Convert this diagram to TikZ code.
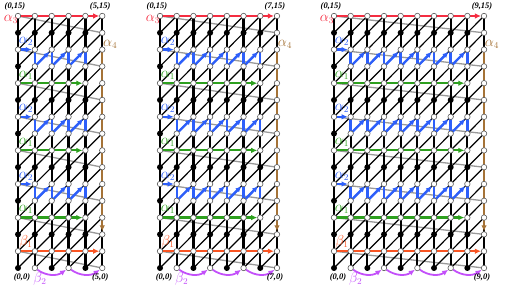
\documentclass[tikz,border=0pt]{standalone}
\usepackage{fontspec}
\setmainfont{Liberation Serif}
\usetikzlibrary{arrows.meta}
\pgfdeclarelayer{glayer}
\pgfdeclarelayer{elayer}
\pgfdeclarelayer{player}
\pgfsetlayers{glayer,elayer,player,main}
\definecolor{cathree}{RGB}{245,45,65}
\definecolor{catwo}{RGB}{45,95,250}
\definecolor{caone}{RGB}{45,160,30}
\definecolor{cafour}{RGB}{165,115,55}
\definecolor{cbone}{RGB}{250,85,35}
\definecolor{cbtwo}{RGB}{195,80,250}
\tikzset{
  ov/.style={circle,draw=black!65,fill=white,line width=0.6pt,inner sep=0pt,minimum size=5.5pt},
  fv/.style={circle,fill=black,inner sep=0pt,minimum size=6pt},
  vedge/.style={line width=2.2pt,black},
  dedge/.style={line width=1.2pt,black},
  gedge/.style={line width=1.3pt,black!40},
  pth/.style={line width=2.2pt,-{Latex[length=6pt,width=5.5pt]}},
  zz/.style={line width=2.4pt},
  coordlab/.style={font=\fontsize{8.5}{9}\selectfont\bfseries\itshape,inner sep=0pt},
  glab/.style={font=\fontsize{13.5}{14}\selectfont,inner sep=0pt},
}
\newcommand\drawpanel[4]{%
  \pgfmathtruncatemacro\mmo{#4-1}%
  \pgfmathtruncatemacro\mmt{#4-2}%
  \foreach \i in {0,...,#4}{%
    \foreach \j in {0,...,15}{%
      \pgfmathtruncatemacro\jm{mod(\j,4)}%
      \pgfmathtruncatemacro\io{mod(\i,2)}%
      \def\st{ov}%
      \ifnum\jm=2 \ifnum\i<#4 \def\st{fv}\fi\fi
      \ifnum\jm=0 \ifnum\j>0 \ifnum\i=0 \def\st{fv}\fi\else\ifnum\io=0 \def\st{fv}\fi\fi\fi
      \node[\st] (#1-\i-\j) at ({#2+#3*\i},{20+16.8*\j}) {};
    }%
  }%
  \begin{pgfonlayer}{glayer}
    \foreach \j [evaluate=\j as \jj using int(\j+1)] in {0,2,...,14}{\draw[gedge] (#1-0-\jj.center) -- (#1-#4-\j.center);}
  \end{pgfonlayer}
  \begin{pgfonlayer}{elayer}
    \foreach \i in {0,...,#4}{\draw[vedge] (#1-\i-0.center) -- (#1-\i-15.center);}
    \foreach \i [evaluate=\i as \ii using int(\i+1)] in {0,...,\mmo}{%
      \foreach \j [evaluate=\j as \jj using int(\j+1)] in {0,...,14}{\draw[dedge] (#1-\i-\j.center) -- (#1-\ii-\jj.center);}}
  \end{pgfonlayer}
  \begin{pgfonlayer}{player}
    \draw[pth,cathree] (#1-0-15.center) -- (#1-#4-15);
    \draw[pth,cbone] (#1-0-1.center) -- (#1-#4-1);
    \draw[pth,cafour,line width=1.8pt] (#1-#4-13.center) -- (#1-#4-2);
    \foreach \rr in {11,7,3}{\draw[pth,caone] (#1-0-\rr.center) -- (#1-\mmo-\rr);}
    \foreach \rr [evaluate=\rr as \rb using int(\rr-1)] in {13,9,5}{%
      \draw[pth,catwo] (#1-0-\rr.center) -- (#1-1-\rr);
      \foreach \i in {1,...,\mmo}{\draw[zz,catwo,line cap=round] (#1-\i-\rr.center) -- (#1-\i-\rb.center);}
      \foreach \i [evaluate=\i as \ii using int(\i+1)] in {1,...,\mmt}{\draw[pth,catwo,line width=2.4pt] (#1-\i-\rb.center) -- (#1-\ii-\rr);}
    }
    \foreach \k [evaluate=\k as \kk using int(\k+2)] in {1,3,...,\mmt}{\draw[pth,cbtwo,line width=1.8pt] (#1-\k-0) to[bend right=35] (#1-\kk-0);}
  \end{pgfonlayer}
  \node[glab,text=cathree] (#1-la3) at ([shift={(-7pt,-3pt)}]#1-0-15) {$\alpha_3$};
  \foreach \rr in {13,9,5}{\node[glab,text=catwo] (#1-la2-\rr) at ([shift={(8pt,8pt)}]#1-0-\rr) {$\alpha_2$};}
  \foreach \rr in {11,7,3}{\node[glab,text=caone] (#1-la1-\rr) at ([shift={(8pt,8pt)}]#1-0-\rr) {$\alpha_1$};}
  \node[glab,text=cafour] (#1-la4) at ([shift={(8pt,5.5pt)}]#1-#4-13) {$\alpha_4$};
  \node[glab,text=cbone] (#1-lb1) at ([shift={(8pt,9pt)}]#1-0-1) {$\beta_1$};
  \node[glab,text=cbtwo] (#1-lb2) at ([shift={(5pt,-11pt)}]#1-1-0) {$\beta_2$};
  \node[coordlab] (#1-c0t) at ([shift={(-3pt,10pt)}]#1-0-15) {(0,15)};
  \node[coordlab] (#1-cmt) at ([shift={(-2pt,10pt)}]#1-#4-15) {(#4,15)};
  \node[coordlab] (#1-c00) at ([shift={(4pt,-9pt)}]#1-0-0) {(0,0)};
  \node[coordlab] (#1-cm0) at ([shift={(-2pt,-9pt)}]#1-#4-0) {(#4,0)};
}
\begin{document}
\begin{tikzpicture}[x=1pt,y=1pt]
\useasboundingbox (0,0) rectangle (505,288);
\drawpanel{a}{18}{16.85}{5}
\drawpanel{b}{160}{16.71}{7}
\drawpanel{c}{334}{16.67}{9}
\end{tikzpicture}
\end{document}
